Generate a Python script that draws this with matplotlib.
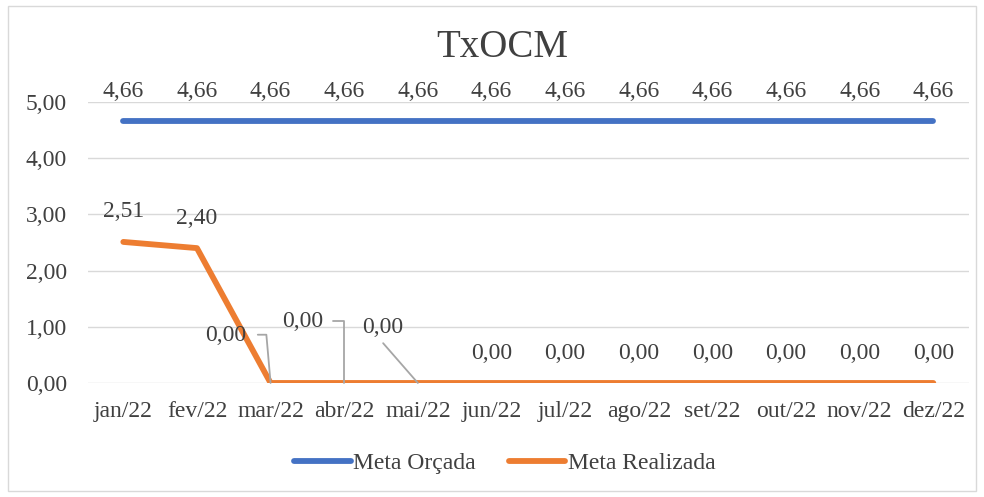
import matplotlib
matplotlib.use('Agg')
import matplotlib.pyplot as plt
from matplotlib.patches import Rectangle

plt.rcParams['font.family'] = ['Liberation Serif', 'DejaVu Serif']

# ─── Data ────────────────────────────────────────────────────────────
months = ['jan/22', 'fev/22', 'mar/22', 'abr/22', 'mai/22', 'jun/22',
          'jul/22', 'ago/22', 'set/22', 'out/22', 'nov/22', 'dez/22']
meta_orcada = [4.66] * 12
meta_realizada = [2.51, 2.40, 0, 0, 0, 0, 0, 0, 0, 0, 0, 0]

BLUE = '#4472c4'
ORANGE = '#ed7d31'
TXT = '#404040'
FS = 17

fig = plt.figure(figsize=(9.84, 4.97), dpi=100)
ax = fig.add_axes([0.0894, 0.2294, 0.895, 0.5654])

x = list(range(len(months)))
ax.plot(x, meta_orcada, color=BLUE, lw=4.2, solid_capstyle='round', label='Meta Orçada')
ax.plot(x, meta_realizada, color=ORANGE, lw=4.2, solid_capstyle='round', label='Meta Realizada')

ax.set_xlim(-0.48, 11.48)
ax.set_ylim(0, 5)
ax.set_yticks([0, 1, 2, 3, 4, 5])
ax.set_yticklabels([f"{v:.2f}".replace('.', ',') for v in [0, 1, 2, 3, 4, 5]])
ax.set_xticks(x)
ax.set_xticklabels(months)
ax.tick_params(length=0, labelsize=FS, colors=TXT)
ax.tick_params(axis='x', pad=13)
ax.tick_params(axis='y', pad=15)
ax.grid(axis='y', color='#d9d9d9', lw=1)
ax.set_axisbelow(True)
for s in ax.spines.values():
    s.set_visible(False)


def fmt(v):
    return f"{v:.2f}".replace('.', ',')


# labels for the budget line
for i, v in enumerate(meta_orcada):
    ax.annotate(fmt(v), (i, v), xytext=(0, 21), textcoords='offset points',
                ha='center', va='center', fontsize=FS, color=TXT)

# labels for realised line
offsets = {0: (0, 22), 1: (0, 21)}
for i, v in enumerate(meta_realizada):
    if i in (2, 3, 4):
        continue
    dx, dy = offsets.get(i, (0, 21))
    ax.annotate(fmt(v), (i, v), xytext=(dx, dy), textcoords='offset points',
                ha='center', va='center', fontsize=FS, color=TXT)

# labels moved off with leader lines (mar, abr, mai)
lead = dict(arrowstyle='-', color='#a6a6a6', lw=1.3, shrinkA=0, shrinkB=0)
ax.annotate(fmt(meta_realizada[2]), (2, meta_realizada[2]), xytext=(-32, 34),
            textcoords='offset points', ha='center', va='center', fontsize=FS, color=TXT,
            arrowprops=dict(lead, connectionstyle='angle,angleA=0,angleB=95,rad=0', relpos=(1.27, 0.55)))
ax.annotate(fmt(meta_realizada[3]), (3, meta_realizada[3]), xytext=(-30, 44),
            textcoords='offset points', ha='center', va='center', fontsize=FS, color=TXT,
            arrowprops=dict(lead, connectionstyle='angle,angleA=0,angleB=90,rad=0', relpos=(1.25, 0.55)))
ax.annotate(fmt(meta_realizada[4]), (4, meta_realizada[4]), xytext=(-25, 40),
            textcoords='offset points', ha='center', va='center', fontsize=FS, color=TXT,
            arrowprops=dict(lead, relpos=(0.5, -0.25)))

fig.text(0.51, 0.905, 'TxOCM', ha='center', va='center', fontsize=28, color=TXT)

leg = fig.legend(loc='center', bbox_to_anchor=(0.513, 0.068), ncol=2, frameon=False,
                 fontsize=FS, handlelength=2.4, handletextpad=0.1, columnspacing=1.4)
for t in leg.get_texts():
    t.set_color(TXT)

fig.patches.append(Rectangle((0.008, 0.012), 0.984, 0.976, transform=fig.transFigure,
                             fill=False, edgecolor='#d9d9d9', lw=1))

fig.savefig('out.png', dpi=100, facecolor='white')
